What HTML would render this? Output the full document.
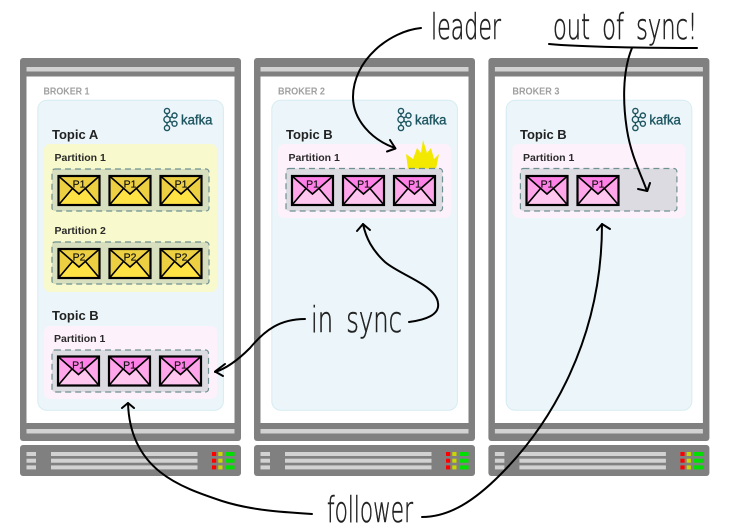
<!DOCTYPE html>
<html>
<head>
<meta charset="utf-8">
<style>
html,body{margin:0;padding:0;background:#fff;width:735px;height:532px;overflow:hidden}
svg{display:block}
.b{font:bold 10px "Liberation Sans",sans-serif;fill:#a0a0a0}
.t{font:bold 13px "Liberation Sans",sans-serif;fill:#222}
.p{font:bold 10.5px "Liberation Sans",sans-serif;fill:#2a2a2a}
.m{font:10.5px "Liberation Sans",sans-serif;fill:#111;stroke:#111;stroke-width:.2;text-anchor:middle}
.k{font:13.5px "Liberation Sans",sans-serif;fill:#1d5560;stroke:#1d5560;stroke-width:.35}
.h{font-family:"DejaVu Sans","Liberation Sans",sans-serif;font-weight:200;fill:#222;stroke:#222;stroke-width:.6}
.a{fill:none;stroke:#000;stroke-width:2;stroke-linecap:round;stroke-linejoin:round}
</style>
</head>
<body>
<svg width="735" height="532" viewBox="0 0 735 532" xmlns="http://www.w3.org/2000/svg">
<defs>
<g id="broker">
  <rect x="20" y="58" width="221" height="383" rx="3" fill="#808080"/>
  <rect x="26.5" y="67" width="208" height="4.5" fill="#d2d2d2"/>
  <rect x="26.5" y="76.5" width="208" height="346.5" fill="#fff"/>
  <rect x="26.5" y="429" width="208" height="4.5" fill="#d2d2d2"/>
  <rect x="20" y="445" width="221" height="31" rx="3" fill="#808080"/>
  <rect x="26.5" y="452" width="9.5" height="4" fill="#d2d2d2"/>
  <rect x="26.5" y="458.7" width="9.5" height="4" fill="#d2d2d2"/>
  <rect x="26.5" y="465.4" width="9.5" height="4" fill="#d2d2d2"/>
  <rect x="51" y="452" width="146.5" height="4" fill="#d2d2d2"/>
  <rect x="51" y="458.7" width="146.5" height="4" fill="#d2d2d2"/>
  <rect x="51" y="465.4" width="146.5" height="4" fill="#d2d2d2"/>
  <g fill="#ff0000"><rect x="212" y="452" width="4.2" height="4"/><rect x="212" y="458.7" width="4.2" height="4"/><rect x="212" y="465.4" width="4.2" height="4"/></g>
  <g fill="#c8d800"><rect x="218.3" y="452" width="4.2" height="4"/><rect x="218.3" y="458.7" width="4.2" height="4"/><rect x="218.3" y="465.4" width="4.2" height="4"/></g>
  <g fill="#00e000"><rect x="225.3" y="452" width="9.2" height="4"/><rect x="225.3" y="458.7" width="9.2" height="4"/><rect x="225.3" y="465.4" width="9.2" height="4"/></g>
  <rect x="37.8" y="100.3" width="185.6" height="310" rx="9" fill="#ecf6fa" stroke="#d5ecf2" stroke-width="1"/>
  <g fill="none" stroke="#1d5560" stroke-width="1.4">
    <circle cx="167" cy="111" r="2.6"/><circle cx="167" cy="119.5" r="3.1"/><circle cx="167" cy="128" r="2.6"/>
    <circle cx="174.5" cy="115.5" r="2.5"/><circle cx="174.5" cy="123.7" r="2.5"/>
    <path d="M167 113.6V116.4M167 122.6V125.4M169.7 118L172.3 116.6M169.7 121L172.3 122.5"/>
  </g>
</g>
<g id="ey">
  <rect x="0" y="0" width="41" height="29" fill="#edd042"/>
  <path d="M0 29L14 13L20.5 18L27 13L41 29Z" fill="#ffe345"/>
  <path d="M0 0L20.5 18L41 0M0 29L14 12.5M41 29L27 12.5" fill="none" stroke="#000" stroke-width="1.6"/>
  <rect x="0" y="0" width="41" height="29" fill="none" stroke="#000" stroke-width="2.2"/>
</g>
<g id="ep">
  <rect x="0" y="0" width="41" height="29" fill="#ffa6ea"/>
  <path d="M0 0H41L20.5 18Z" fill="#ff80e6"/>
  <path d="M0 29L14 13L20.5 18L27 13L41 29Z" fill="#ffc6f0"/>
  <path d="M0 0L20.5 18L41 0M0 29L14 12.5M41 29L27 12.5" fill="none" stroke="#000" stroke-width="1.6"/>
  <rect x="0" y="0" width="41" height="29" fill="none" stroke="#000" stroke-width="2.2"/>
</g>
</defs>

<use href="#broker"/>
<use href="#broker" x="234"/>
<use href="#broker" x="468.4"/>

<text class="b" x="43.5" y="94.5" textLength="46" lengthAdjust="spacingAndGlyphs">BROKER 1</text>
<text class="b" x="278" y="94.5" textLength="47" lengthAdjust="spacingAndGlyphs">BROKER 2</text>
<text class="b" x="512.4" y="94.5" textLength="47" lengthAdjust="spacingAndGlyphs">BROKER 3</text>
<text class="k" x="181" y="124.5" textLength="31.5" lengthAdjust="spacingAndGlyphs">kafka</text>
<text class="k" x="415" y="124.5" textLength="31.5" lengthAdjust="spacingAndGlyphs">kafka</text>
<text class="k" x="649.4" y="124.5" textLength="31.5" lengthAdjust="spacingAndGlyphs">kafka</text>

<!-- Broker 1 -->
<text class="t" x="52" y="139">Topic A</text>
<rect x="44" y="144" width="173" height="148" rx="6" fill="#f8f9cc"/>
<text class="p" x="54.5" y="161">Partition 1</text>
<rect x="52" y="169" width="157" height="42" rx="3" fill="#d8dfbf" stroke="#6f9191" stroke-width="1.2" stroke-dasharray="6 4"/>
<use href="#ey" x="58.5" y="176"/><use href="#ey" x="109.5" y="176"/><use href="#ey" x="160.5" y="176"/>
<text class="m" x="79" y="187.5">P1</text><text class="m" x="130" y="187.5">P1</text><text class="m" x="181" y="187.5">P1</text>
<text class="p" x="54.5" y="234">Partition 2</text>
<rect x="52" y="242" width="157" height="42" rx="3" fill="#d8dfbf" stroke="#6f9191" stroke-width="1.2" stroke-dasharray="6 4"/>
<use href="#ey" x="58.5" y="249"/><use href="#ey" x="109.5" y="249"/><use href="#ey" x="160.5" y="249"/>
<text class="m" x="79" y="260.5">P2</text><text class="m" x="130" y="260.5">P2</text><text class="m" x="181" y="260.5">P2</text>

<text class="t" x="52" y="320">Topic B</text>
<rect x="44" y="326" width="173" height="73" rx="6" fill="#fdf1fb"/>
<text class="p" x="54" y="342">Partition 1</text>
<rect x="52" y="350" width="156.5" height="42" rx="3" fill="#dddbe2" stroke="#6f9191" stroke-width="1.2" stroke-dasharray="6 4"/>
<use href="#ep" x="58" y="356.5"/><use href="#ep" x="109" y="356.5"/><use href="#ep" x="160" y="356.5"/>
<text class="m" x="78.5" y="368.5">P1</text><text class="m" x="129.5" y="368.5">P1</text><text class="m" x="180.5" y="368.5">P1</text>

<!-- Broker 2 -->
<text class="t" x="286" y="139">Topic B</text>
<rect x="278" y="144" width="173" height="74" rx="6" fill="#fdf1fb"/>
<text class="p" x="288.5" y="161">Partition 1</text>
<path d="M408 169L406 154L413 159L417 148L421 153L423 140L427 153L431 148L434 159L439 154L436 169Z" fill="#f2e800"/>
<rect x="286" y="168.5" width="156.5" height="42.5" rx="3" fill="#dddbe2" stroke="#6f9191" stroke-width="1.2" stroke-dasharray="6 4"/>
<use href="#ep" x="292" y="176"/><use href="#ep" x="343" y="176"/><use href="#ep" x="394" y="176"/>
<text class="m" x="312.5" y="187.5">P1</text><text class="m" x="363.5" y="187.5">P1</text><text class="m" x="414.5" y="187.5">P1</text>

<!-- Broker 3 -->
<text class="t" x="520" y="139">Topic B</text>
<rect x="512.4" y="144" width="173" height="74" rx="6" fill="#fdf1fb"/>
<text class="p" x="523" y="161">Partition 1</text>
<rect x="520.4" y="168.5" width="156.5" height="42.5" rx="3" fill="#dddbe2" stroke="#6f9191" stroke-width="1.2" stroke-dasharray="6 4"/>
<use href="#ep" x="526.5" y="176"/><use href="#ep" x="577.5" y="176"/>
<text class="m" x="547" y="187.5">P1</text><text class="m" x="598" y="187.5">P1</text>

<!-- Arrows -->
<path class="a" d="M421 28C390 31 353 60 353 97C353 120 372 140 395 148"/>
<path class="a" d="M390 140L395.5 148.5L387 151.5"/>
<path class="a" d="M549 44C580 47 650 48 697 48"/>
<path class="a" d="M632 48C622 72 623 105 627 130C631 155 640 172 647 191"/>
<path class="a" d="M650 183L647.3 191L638 189"/>
<path class="a" d="M305 319C280 319 265 330 250 348C240 358 228 368 215 372"/>
<path class="a" d="M225 364L215 371.5L223 376"/>
<path class="a" d="M409 322C425 320 440 315 438 303C436 285 400 275 385 262C372 250 366 238 363 224"/>
<path class="a" d="M357 231L363 224L370 230"/>
<path class="a" d="M312 514C280 512 250 510 222 501C180 487 130 470 128 403"/>
<path class="a" d="M122 408L128 403L134 408"/>
<path class="a" d="M422 517C450 517 475 500 500 475C550 425 602 340 602 224"/>
<path class="a" d="M597 230L602 224L610 229"/>

<!-- Handwritten labels -->
<text class="h" x="431" y="39" font-size="36" textLength="70" lengthAdjust="spacingAndGlyphs">leader</text>
<text class="h" x="553" y="39" font-size="36" word-spacing="8" textLength="144" lengthAdjust="spacingAndGlyphs">out of sync!</text>
<text class="h" x="311" y="332" font-size="36" word-spacing="8" textLength="91" lengthAdjust="spacingAndGlyphs">in sync</text>
<text class="h" x="327" y="522" font-size="36" textLength="86" lengthAdjust="spacingAndGlyphs">follower</text>
</svg>
</body>
</html>
